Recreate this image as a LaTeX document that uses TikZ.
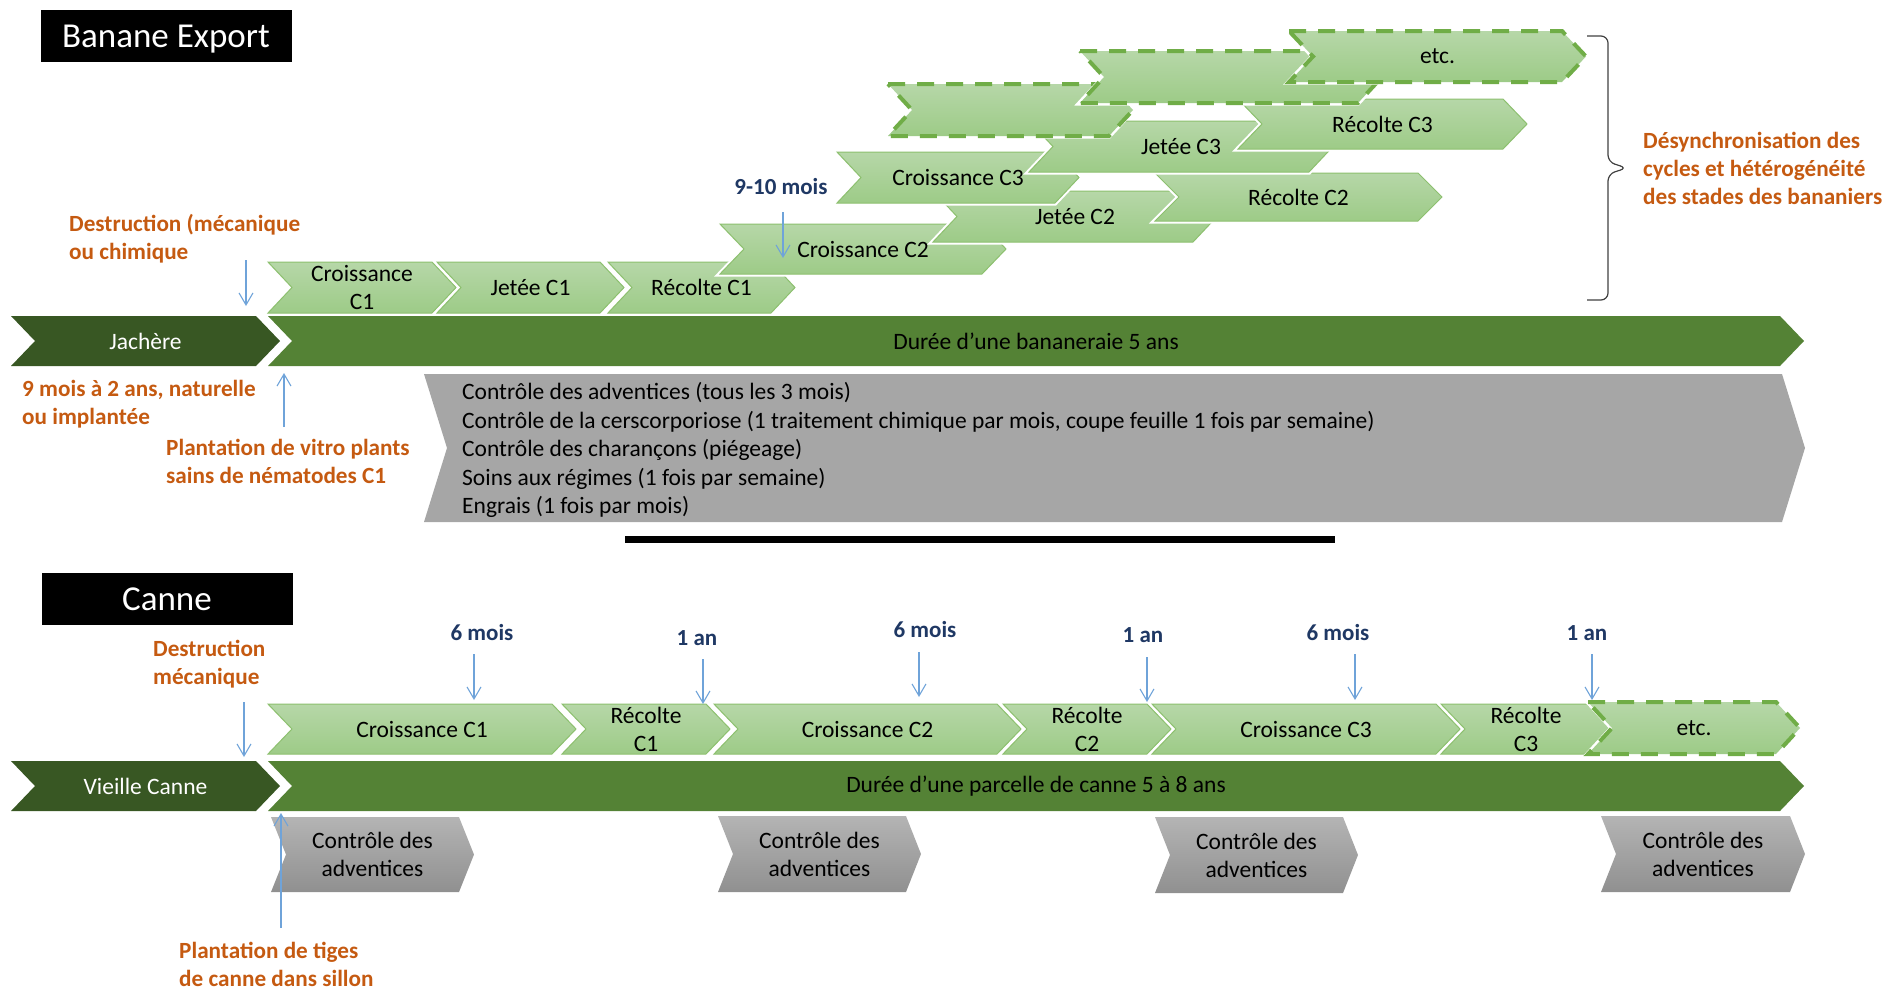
\documentclass[tikz,border=0pt]{standalone}
\usepackage{fontspec}
\setmainfont{Carlito}
\usetikzlibrary{arrows.meta}

\definecolor{darkbar}{HTML}{385723}
\definecolor{mainbar}{HTML}{548235}
\definecolor{chevtop}{HTML}{B6D7A8}
\definecolor{chevbot}{HTML}{9DCB87}
\definecolor{chevline}{HTML}{8DC06F}
\definecolor{dashgreen}{HTML}{70AD47}
\definecolor{graytop}{HTML}{B4B4B4}
\definecolor{graybot}{HTML}{909090}
\definecolor{bigbox}{HTML}{A6A6A6}
\definecolor{orangetxt}{HTML}{C55A11}
\definecolor{navytxt}{HTML}{1F3864}
\definecolor{arrowblue}{HTML}{6FA3D9}
\definecolor{bracegray}{HTML}{404040}

\tikzset{dep/.store in=\dep, dep=24}

% chevron: [style]{name}{left x}{tip x}{top y}{bottom y}{text}
\newcommand{\chev}[7][greenchev]{%
  \path[#1] (#3,#5) -- ({#4-\dep},#5) -- (#4,{(#5+#6)/2}) -- ({#4-\dep},#6)
    -- (#3,#6) -- ({#3+\dep},{(#5+#6)/2}) -- cycle;
  \node[chevtext] (#2) at ({(#3+#4)/2},{(#5+#6)/2}) {#7};
}

\begin{document}
\begin{tikzpicture}[x=1pt,y=-1pt,
    greenchev/.style={top color=chevtop, bottom color=chevbot, draw=chevline,
      line width=1pt, preaction={draw=white, line width=5pt}},
    dashchev/.style={greenchev, draw=dashgreen, line width=4pt,
      dash pattern=on 17pt off 12pt},
    barA/.style={fill=darkbar},
    barB/.style={fill=mainbar},
    graybig/.style={fill=bigbox, dep=23},
    graychev/.style={top color=graytop, bottom color=graybot, dep=15},
    chevtext/.style={font=\fontsize{23.5}{28}\selectfont, align=center, inner sep=0pt},
    titlebox/.style={fill=black, text=white, minimum width=251pt, minimum height=52pt,
      text height=23pt, text depth=0pt, font=\fontsize{35}{40}\selectfont, inner sep=0pt},
    lab/.style={font=\bfseries\fontsize{23.2}{28}\selectfont, text=orangetxt,
      align=left, inner sep=0pt, anchor=west},
    dur/.style={font=\bfseries\fontsize{23}{28}\selectfont, text=navytxt, inner sep=0pt},
    bluearr/.style={draw=arrowblue, line width=1.1pt,
      -{Straight Barb[length=12pt,width=14pt,line width=1.1pt]}},
    cyclebrace/.style={draw=bracegray, line width=1.2pt, rounded corners=7pt}]
  \useasboundingbox (0,0) rectangle (1888,989);

  % ---- Banane Export
  \node[titlebox] (banane) at (166,36) {Banane Export};

  \chev[barA]{jachere}{11}{280}{316}{366}{\color{white}Jachère}
  \chev[barB]{banbar}{268}{1804}{316}{366}{Durée d’une bananeraie 5 ans}

  \chev{crC1}{268}{456}{262}{313}{Croissance\\C1}
  \chev{jeC1}{437}{624}{262}{313}{Jetée C1}
  \chev{reC1}{608}{795}{262}{313}{Récolte C1}
  \chev{crC2}{720}{1006}{224}{274}{Croissance C2}
  \chev{jeC2}{933}{1217}{191}{242}{Jetée C2}
  \chev{reC2}{1155}{1442}{173}{221}{Récolte C2}
  \chev{crC3}{837}{1079}{152}{203}{Croissance C3}
  \chev{jeC3}{1029}{1333}{121}{172}{Jetée C3}
  \chev{reC3}{1238}{1527}{99}{149}{Récolte C3}
  \chev[dashchev]{nxtA}{888}{1133}{84}{136}{}
  \chev[dashchev]{nxtB}{1080}{1382}{51}{103}{}
  \chev[dashchev]{etcban}{1289}{1586}{31}{82}{etc.}

  \chev[graybig]{soins}{424}{1805}{374}{522}{}
  \node[chevtext, align=left, anchor=west, font=\fontsize{23.5}{28.5}\selectfont] (soinstxt) at (462,450)
    {Contrôle des adventices (tous les 3 mois)\\
     Contrôle de la cerscorporiose (1 traitement chimique par mois, coupe feuille 1 fois par semaine)\\
     Contrôle des charançons (piégeage)\\
     Soins aux régimes (1 fois par semaine)\\
     Engrais (1 fois par mois)};

  \node[lab] (destban) at (69,239) {Destruction (mécanique\\ou chimique};
  \node[lab] (jachdur) at (22,404) {9 mois à 2 ans, naturelle\\ou implantée};
  \node[lab] (plantban) at (166,461) {Plantation de vitro plants\\sains de nématodes C1};
  \node[lab] (desync) at (1643,168) {Désynchronisation des\\cycles et hétérogénéité\\des stades des bananiers};
  \node[dur] (moisban) at (781,187) {9-10 mois};

  \coordinate (dbA) at (246,260); \coordinate (dbB) at (246,306);
  \coordinate (pbA) at (284,427); \coordinate (pbB) at (284,373);
  \coordinate (mbA) at (783,212); \coordinate (mbB) at (783,258);
  \draw[bluearr] (dbA) -- (dbB);
  \draw[bluearr] (pbA) -- (pbB);
  \draw[bluearr] (mbA) -- (mbB);

  % accolade
  \coordinate (brA) at (1587,36); \coordinate (brM) at (1627,168); \coordinate (brB) at (1587,300);
  \draw[cyclebrace] (brA) -- (1608,36) -- (1608,162) -- (brM) -- (1608,174) -- (1608,300) -- (brB);

  \coordinate (lnA) at (625,539); \coordinate (lnB) at (1335,539);
  \draw[line width=7pt] (lnA) -- (lnB);

  % ---- Canne
  \node[titlebox] (canne) at (167,599) {Canne};

  \chev[barA]{vieille}{11}{280}{761}{811}{\color{white}Vieille Canne}
  \chev[barB]{canbar}{268}{1804}{761}{811}{Durée d’une parcelle de canne 5 à 8 ans}

  \chev{ccrC1}{268}{576}{704}{754}{Croissance C1}
  \chev{creC1}{562}{730}{704}{754}{Récolte\\C1}
  \chev{ccrC2}{714}{1021}{704}{754}{Croissance C2}
  \chev{creC2}{1003}{1171}{704}{754}{Récolte\\C2}
  \chev{ccrC3}{1152}{1460}{704}{754}{Croissance C3}
  \chev{creC3}{1441}{1611}{704}{754}{Récolte\\C3}
  \chev[dashchev]{etccan}{1588}{1800}{702}{754}{etc.}

  \chev[graychev]{advA}{271}{474}{817}{892}{Contrôle des\\adventices}
  \chev[graychev]{advB}{718}{921}{816}{892}{Contrôle des\\adventices}
  \chev[graychev]{advC}{1155}{1358}{817}{893}{Contrôle des\\adventices}
  \chev[graychev]{advD}{1601}{1805}{816}{892}{Contrôle des\\adventices}

  \node[lab] (destcan) at (153,664) {Destruction\\mécanique};
  \node[lab] (plantcan) at (179,964) {Plantation de tiges\\de canne dans sillon};

  \node[dur] (mA) at (482,633) {6 mois};
  \node[dur] (aA) at (697,638) {1 an};
  \node[dur] (mB) at (925,630) {6 mois};
  \node[dur] (aB) at (1143,635) {1 an};
  \node[dur] (mC) at (1338,633) {6 mois};
  \node[dur] (aC) at (1587,633) {1 an};

  \coordinate (dcA) at (244,702); \coordinate (dcB) at (244,757);
  \coordinate (pcA) at (281,928); \coordinate (pcB) at (281,813);
  \coordinate (mAa) at (474,654); \coordinate (mAb) at (474,700);
  \coordinate (aAa) at (703,659); \coordinate (aAb) at (703,704);
  \coordinate (mBa) at (919,652); \coordinate (mBb) at (919,697);
  \coordinate (aBa) at (1147,657); \coordinate (aBb) at (1147,702);
  \coordinate (mCa) at (1355,654); \coordinate (mCb) at (1355,700);
  \coordinate (aCa) at (1592,654); \coordinate (aCb) at (1592,700);
  \draw[bluearr] (dcA) -- (dcB);
  \draw[bluearr] (pcA) -- (pcB);
  \draw[bluearr] (mAa) -- (mAb);
  \draw[bluearr] (aAa) -- (aAb);
  \draw[bluearr] (mBa) -- (mBb);
  \draw[bluearr] (aBa) -- (aBb);
  \draw[bluearr] (mCa) -- (mCb);
  \draw[bluearr] (aCa) -- (aCb);
\end{tikzpicture}
\end{document}
